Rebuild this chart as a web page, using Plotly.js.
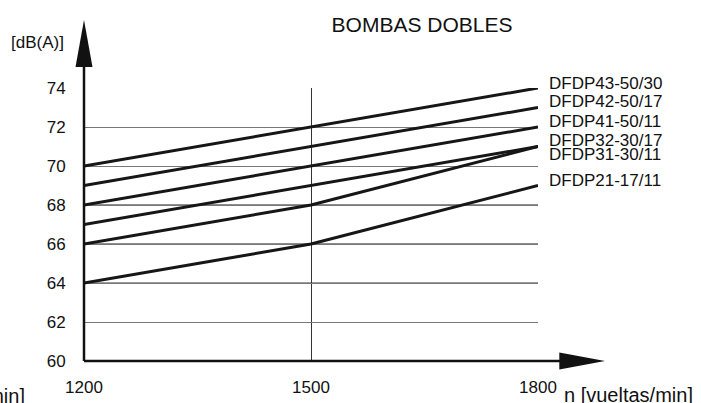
<!DOCTYPE html>
<html>
<head>
<meta charset="utf-8">
<script src="https://cdn.plot.ly/plotly-3.0.1.min.js"></script>
<style>html,body{margin:0;padding:0;background:#fff;}#chart{width:701px;height:403px;}</style>
</head>
<body>
<div id="chart"></div>
<script>
// Data
const speeds = [1200, 1500, 1800];
const seriesNames = ["DFDP43-50/30", "DFDP42-50/17", "DFDP41-50/11", "DFDP32-30/17", "DFDP31-30/11", "DFDP21-17/11"];
const dfdp43_50_30 = [70, 72, 74];
const dfdp42_50_17 = [69, 71, 73];
const dfdp41_50_11 = [68, 70, 72];
const dfdp32_30_17 = [67, 69, 71];
const dfdp31_30_11 = [66, 68, 71];
const dfdp21_17_11 = [64, 66, 69];
const yTicks = [60, 62, 64, 66, 68, 70, 72, 74];
const xTicks = [1200, 1500, 1800];
const darkGrid = [64, 66, 68];
const labelShift = [5, 6, 6, 6.5, -7.5, 5.5];

const allSeries = [dfdp43_50_30, dfdp42_50_17, dfdp41_50_11, dfdp32_30_17, dfdp31_30_11, dfdp21_17_11];

const traces = allSeries.map((vals, i) => ({
  x: speeds, y: vals, type: 'scatter', mode: 'lines', name: seriesNames[i],
  line: {color: '#161616', width: 3}, hoverinfo: 'skip'
}));

const font = 'Arial, "Liberation Sans", sans-serif';
const annotations = allSeries.map((vals, i) => ({
  x: speeds[speeds.length - 1], y: vals[vals.length - 1], xref: 'x', yref: 'y',
  text: seriesNames[i], showarrow: false, xanchor: 'left', yanchor: 'middle',
  xshift: 9, yshift: labelShift[i], font: {family: font, size: 17, color: '#111'}
}));
annotations.push({x: -0.1024, y: 1.168, xref: 'paper', yref: 'paper', text: '[dB(A)]', showarrow: false,
  xanchor: 'center', yanchor: 'middle', font: {family: font, size: 17, color: '#111'}});
annotations.push({x: 1.052, y: -0.125, xref: 'paper', yref: 'paper', text: 'n [vueltas/min]', showarrow: false,
  xanchor: 'left', yanchor: 'middle', font: {family: font, size: 20, color: '#111'}});
annotations.push({x: -0.1256, y: -0.13, xref: 'paper', yref: 'paper', text: 'n [vueltas/min]', showarrow: false,
  xanchor: 'right', yanchor: 'middle', font: {family: font, size: 20, color: '#111'}});

const shapes = darkGrid.map(v => ({type: 'line', xref: 'paper', yref: 'y', x0: 0, x1: 1, y0: v, y1: v,
  line: {color: v === 64 ? '#3a3a3a' : '#1e1e1e', width: 1.2}, layer: 'below'}));
shapes.push(
  // y axis line
  {type: 'line', xref: 'paper', yref: 'paper', x0: 0, x1: 0, y0: 0, y1: 1.09, line: {color: '#111', width: 2.5}},
  // y arrow head
  {type: 'path', xref: 'paper', yref: 'paper', path: 'M -0.0187 1.077 L 0.0187 1.077 L 0 1.249 Z', fillcolor: '#111', line: {width: 0}},
  // x axis line
  {type: 'line', xref: 'paper', yref: 'paper', x0: 0, x1: 1.06, y0: 0, y1: 0, line: {color: '#111', width: 2.5}},
  // x arrow head
  {type: 'path', xref: 'paper', yref: 'paper', path: 'M 1.047 0.031 L 1.047 -0.031 L 1.1476 0 Z', fillcolor: '#111', line: {width: 0}}
);

const layout = {
  width: 701, height: 403,
  margin: {l: 84, r: 163, t: 88, b: 42},
  paper_bgcolor: '#fff', plot_bgcolor: '#fff',
  showlegend: false,
  title: {text: 'BOMBAS DOBLES', x: 0.602, xref: 'container', xanchor: 'center', y: 0.94, yref: 'container', yanchor: 'middle',
    font: {family: font, size: 21, color: '#111'}},
  xaxis: {range: [1200, 1800], tickvals: xTicks, ticktext: xTicks.map(String), showgrid: true, gridcolor: '#333', gridwidth: 1,
    zeroline: false, showline: false, ticks: 'outside', ticklen: 11, tickcolor: 'rgba(0,0,0,0)',
    tickfont: {family: font, size: 17, color: '#111'}, fixedrange: true},
  yaxis: {range: [60, 74], tickvals: yTicks, ticktext: yTicks.map(String), showgrid: true, gridcolor: '#777', gridwidth: 1,
    zeroline: false, showline: false, ticks: 'outside', ticklen: 14, tickcolor: 'rgba(0,0,0,0)',
    tickfont: {family: font, size: 17, color: '#111'}, fixedrange: true},
  annotations: annotations,
  shapes: shapes
};

Plotly.newPlot('chart', traces, layout, {displayModeBar: false, staticPlot: true});
</script>
</body>
</html>
